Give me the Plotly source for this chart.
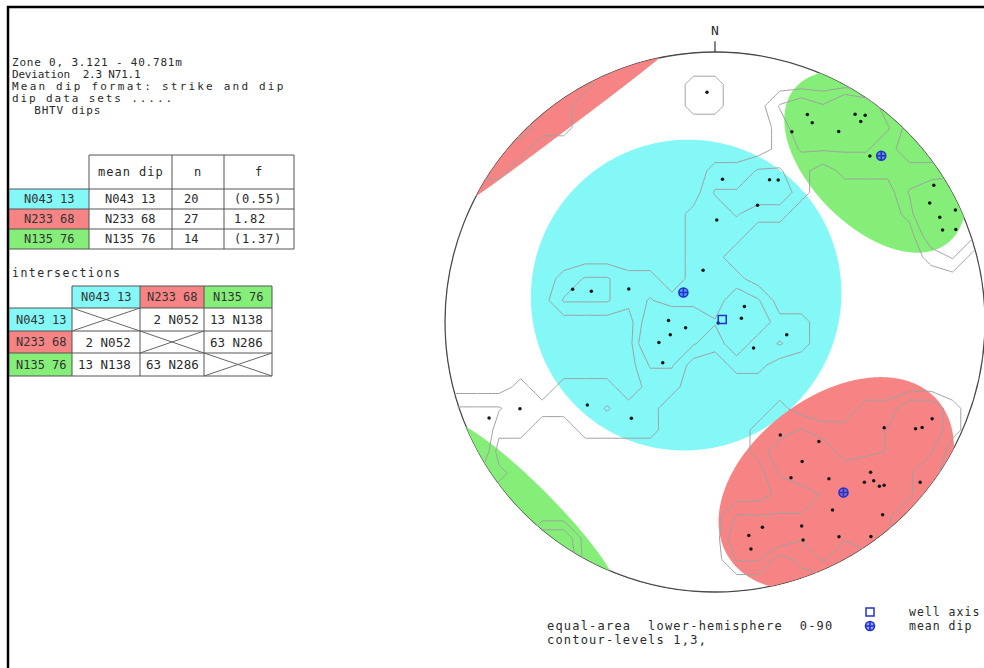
import numpy as np
import plotly.graph_objects as go

# ---------------- data ----------------
info_lines = ["Zone 0, 3.121 - 40.781m", "Deviation  2.3 N71.1",
              "Mean dip format: strike and dip", "dip data sets .....", "   BHTV dips"]
set_labels = ["N043 13", "N233 68", "N135 76"]
set_colors = ["#84F7F7", "#F78484", "#84EE78"]
mean_strike = [43, 233, 135]
mean_dip = [13, 68, 76]
set_n = [20, 27, 14]
set_f = ["(0.55)", "1.82", "(1.37)"]
table1_header = ["mean dip", "n", "f"]
isect_plunge = [[None, 2, 13], [2, None, 63], [13, 63, None]]
isect_trend = [[None, 52, 138], [52, None, 286], [138, 286, None]]
cone_half_angle = [48, 33, 26]
well_deviation = 2.3
well_azimuth = 71.1
contour_levels = [1, 3]
bottom_lines = ["equal-area  lower-hemisphere  0-90", "contour-levels 1,3,"]
legend_labels = ["well axis", "mean dip"]

# BHTV dips (dip direction, dip) per set
cyan_dipdir = [183, 201, 204, 200, 181, 167, 103, 104, 111, 242, 288, 262, 92, 79, 74, 70, 280, 304, 52, 57, 41]
cyan_dip = [44, 47, 48, 38, 31, 16, 45, 39, 28, 10, 1, 8, 14, 9, 14, 18, 22, 14, 20, 47, 39]
red_dipdir = [330, 319, 328, 334, 324, 314, 315, 317, 315, 314, 328, 319, 308, 302, 298, 297, 294,
              347, 337, 351, 351, 338, 330, 324]
red_dip = [40, 49, 51, 54, 61, 69, 72, 70, 75, 76, 71, 84, 86, 63, 73, 75, 77, 67, 71, 69, 74, 76, 81, 88]
green_dipdir = [204, 206, 202, 213, 214, 216, 216, 223, 238, 241, 245, 248, 249, 245]
green_dip = [73, 71, 65, 73, 82, 84, 81, 73, 85, 80, 81, 80, 85, 88]
other_dipdir = [178, 67, 66]
other_dip = [74, 80, 68]

# ---------------- style / geometry ----------------
W, H = 984, 668
CX, CY, R = 715.0, 322.0, 270.0
FONT = "DejaVu Sans Mono"
TXT = "#2a2a2a"
info_spacing = [0.8, -0.2, 2.2, 1.9, 0.8]
GRID_STEP, COUNT_RADIUS = 0.08, 0.11


def px(x, y):
    return x / W, 1 - y / H


def vec(az, theta):
    a, t = np.radians(az), np.radians(theta)
    return np.array([np.sin(t) * np.sin(a), np.sin(t) * np.cos(a), np.cos(t)])


def proj_pts(P):
    P = np.atleast_2d(P)
    rh = np.hypot(P[:, 0], P[:, 1])
    rh = np.where(rh < 1e-12, 1e-12, rh)
    rho = np.sqrt(np.clip(1 - P[:, 2], 0, None))
    rho = np.where(P[:, 2] < 0, 1.0, rho)
    return rho * P[:, 0] / rh, rho * P[:, 1] / rh


def pole_xy(dipdir, dip):
    dd = np.asarray(dipdir, float)
    d = np.asarray(dip, float)
    rho = np.sqrt(2) * np.sin(np.radians(d) / 2)
    tr = np.radians(dd + 180)
    return rho * np.sin(tr), rho * np.cos(tr)


def cone_pieces(az, theta, alpha, n=720):
    m = vec(az, theta)
    k = np.array([0, 0, 1.0]) if abs(m[2]) < 0.9 else np.array([1.0, 0, 0])
    u = np.cross(m, k)
    u /= np.linalg.norm(u)
    v = np.cross(m, u)
    t = np.linspace(0, 2 * np.pi, n, endpoint=False)
    a = np.radians(alpha)
    P = np.cos(a) * m[None, :] + np.sin(a) * (np.cos(t)[:, None] * u[None, :] + np.sin(t)[:, None] * v[None, :])
    pieces = [proj_pts(P)]
    Q = -P
    up = Q[:, 2] > 0
    if up.any() and not up.all():
        start = [i for i in range(n) if up[i] and not up[i - 1]][0]
        Q = np.roll(Q, -start, axis=0)
        up = np.roll(up, -start)
        run = Q[: np.argmin(up)]
        xs, ys = proj_pts(run)
        a_end = np.arctan2(xs[-1], ys[-1])
        a_st = np.arctan2(xs[0], ys[0])
        dlt = (a_st - a_end + np.pi) % (2 * np.pi) - np.pi
        arc = a_end + dlt * np.linspace(0, 1, 40)
        pieces.append((np.concatenate([xs, np.sin(arc)]), np.concatenate([ys, np.cos(arc)])))
    return pieces


def path_of(xs, ys):
    return "M" + " L".join("%.4f,%.4f" % (a, b) for a, b in zip(xs, ys)) + " Z"


fig = go.Figure()
shapes = []
ann = []

# primitive circle (bottom-most)
shapes.append(dict(type="circle", xref="x", yref="y", x0=-1, y0=-1, x1=1, y1=1,
                   line=dict(color="#4a4a4a", width=1.3), layer="below"))

# colored set regions (cones around the mean poles), below all traces
for i in range(3):
    paz = (mean_strike[i] + 270) % 360
    for xs, ys in cone_pieces(paz, mean_dip[i], cone_half_angle[i]):
        shapes.append(dict(type="path", xref="x", yref="y", path=path_of(xs, ys),
                           fillcolor=set_colors[i], line=dict(width=0), layer="below"))

# density contours (counting circle)
all_dd = cyan_dipdir + red_dipdir + green_dipdir + other_dipdir
all_d = cyan_dip + red_dip + green_dip + other_dip
pxs, pys = pole_xy(all_dd, all_d)
rho = np.hypot(pxs, pys)
edge = rho > 0.8
rr = np.sqrt(2 - rho[edge] ** 2)
ex = -pxs[edge] / rho[edge] * rr
ey = -pys[edge] / rho[edge] * rr
cx_all = np.concatenate([pxs, ex])
cy_all = np.concatenate([pys, ey])
g = np.round(np.arange(-1.2, 1.2001, GRID_STEP), 4)
GX, GY = np.meshgrid(g, g)
dist = np.hypot(GX[..., None] - cx_all[None, None, :], GY[..., None] - cy_all[None, None, :])
Z = (dist <= COUNT_RADIUS).sum(axis=2) * 100.0 / len(pxs)
Z[np.hypot(GX, GY) > 1.05] = 0
fig.add_trace(go.Contour(x=g, y=g, z=Z, showscale=False, hoverinfo="skip",
                         contours=dict(start=contour_levels[0], end=contour_levels[-1],
                                       size=contour_levels[1] - contour_levels[0], coloring="none"),
                         line=dict(color="#a0a0a0", width=1, smoothing=0)))

# poles
for dd, d in [(cyan_dipdir, cyan_dip), (red_dipdir, red_dip), (green_dipdir, green_dip),
              (other_dipdir, other_dip)]:
    x, y = pole_xy(dd, d)
    fig.add_trace(go.Scatter(x=x, y=y, mode="markers", marker=dict(size=3.5, color="#151515"),
                             hoverinfo="skip", showlegend=False))

# mean dips
mx, my = pole_xy([(s + 90) % 360 for s in mean_strike], mean_dip)
fig.add_trace(go.Scatter(x=mx, y=my, mode="markers",
                         marker=dict(symbol="circle-cross", size=9, color="rgba(60,80,230,0.55)",
                                     line=dict(width=1.6, color="#2233cc")),
                         hoverinfo="skip", showlegend=False))
# well axis
wr = np.sqrt(2) * np.sin(np.radians(well_deviation) / 2)
fig.add_trace(go.Scatter(x=[wr * np.sin(np.radians(well_azimuth))], y=[wr * np.cos(np.radians(well_azimuth))],
                         mode="markers",
                         marker=dict(symbol="square-open", size=8, color="#2233cc", line=dict(width=1.5)),
                         hoverinfo="skip", showlegend=False))


# legend symbols
def d_of(x, y):
    return (x - CX) / R, (CY - y) / R


lx0, ly0 = d_of(870, 612)
lx1, ly1 = d_of(870, 626)
fig.add_trace(go.Scatter(x=[lx0], y=[ly0], mode="markers",
                         marker=dict(symbol="square-open", size=8, color="#2233cc", line=dict(width=1.5)),
                         hoverinfo="skip", showlegend=False))
fig.add_trace(go.Scatter(x=[lx1], y=[ly1], mode="markers",
                         marker=dict(symbol="circle-cross", size=9, color="rgba(60,80,230,0.55)",
                                     line=dict(width=1.6, color="#2233cc")),
                         hoverinfo="skip", showlegend=False))

# white mask outside primitive to trim contour lines
th = np.linspace(0, 2 * np.pi, 241)
shapes.append(dict(type="path", xref="x", yref="y",
                   path=path_of(1.17 * np.sin(th), 1.17 * np.cos(th)) + " " +
                        path_of(1.004 * np.sin(th), 1.004 * np.cos(th)),
                   fillcolor="white", fillrule="evenodd", line=dict(width=0), layer="above"))
# north tick
shapes.append(dict(type="line", xref="x", yref="y", x0=0, y0=1.0, x1=0, y1=1.04,
                   line=dict(color="#333", width=1.2), layer="above"))
ann.append(dict(x=0, y=(CY - 30) / R, xref="x", yref="y", text="N", showarrow=False,
                font=dict(family=FONT, size=13, color=TXT), xanchor="center", yanchor="middle"))


def pline(x0, y0, x1, y1, color="#555", width=1):
    a0, b0 = px(x0, y0)
    a1, b1 = px(x1, y1)
    shapes.append(dict(type="line", xref="paper", yref="paper", x0=a0, y0=b0, x1=a1, y1=b1,
                       line=dict(color=color, width=width), layer="above"))


def prect(x0, y0, x1, y1, color):
    a0, b0 = px(x0, y0)
    a1, b1 = px(x1, y1)
    shapes.append(dict(type="rect", xref="paper", yref="paper", x0=a0, y0=b0, x1=a1, y1=b1,
                       fillcolor=color, line=dict(width=0), layer="below"))


def ptext(x, y, s, anchor="left", size=13, color=TXT, spacing=0.0):
    a, b = px(x, y)
    t = s.replace(" ", "\u00a0")
    if spacing:
        t = '<span style="letter-spacing:%.1fpx">%s</span>' % (spacing, t)
    ann.append(dict(x=a, y=b, xref="paper", yref="paper", text=t,
                    showarrow=False, xanchor=anchor, yanchor="middle",
                    font=dict(family=FONT, size=size, color=color)))


# page border lines
pline(7, 7, 984, 7, "black", 2.5)
pline(8, 6, 8, 668, "black", 2.5)

# info text
for i, s in enumerate(info_lines):
    ptext(10, 63 + 11.9 * i, s, size=11, spacing=info_spacing[i])

# table 1
c1 = [8, 89, 172, 224, 294]
r1 = [155, 189, 209, 229, 249]
for i in range(3):
    prect(9, r1[i + 1], c1[1], r1[i + 2], set_colors[i])
pline(c1[1], r1[0], c1[4], r1[0])
for y in r1[1:]:
    pline(9, y, c1[4], y)
for x in c1[1:]:
    pline(x, r1[0], x, r1[4])
hy = (r1[0] + r1[1]) / 2
for j, h in enumerate(table1_header):
    ptext((c1[j + 1] + c1[j + 2]) / 2, hy, h, "center", 12, spacing=1.0)
for i in range(3):
    yy = (r1[i + 1] + r1[i + 2]) / 2
    ptext((c1[0] + c1[1]) / 2 + 1, yy, set_labels[i], "center", 12, "#333")
    ptext((c1[1] + c1[2]) / 2, yy, "N%03d %d" % (mean_strike[i], mean_dip[i]), "center", 12)
    ptext(c1[2] + 10, yy, str(set_n[i]), size=12)
    ptext(c1[3] + 8, yy, set_f[i], size=12, spacing=0.8)

# intersections table
ptext(10, 273, "intersections", size=11.5, spacing=1.5)
c2 = [8, 72, 140, 204, 272]
r2 = [286, 308, 331, 353, 376]
for j in range(3):
    prect(c2[j + 1], r2[0], c2[j + 2], r2[1], set_colors[j])
    prect(9, r2[j + 1], c2[1], r2[j + 2], set_colors[j])
pline(c2[1], r2[0], c2[4], r2[0])
for y in r2[1:]:
    pline(9, y, c2[4], y)
for x in c2[1:]:
    pline(x, r2[0], x, r2[4])
for j in range(3):
    ptext((c2[j + 1] + c2[j + 2]) / 2, (r2[0] + r2[1]) / 2, set_labels[j], "center", 12, "#333")
    ptext((c2[0] + c2[1]) / 2 + 1, (r2[j + 1] + r2[j + 2]) / 2, set_labels[j], "center", 12, "#333")
for i in range(3):
    for j in range(3):
        x0, x1 = c2[j + 1], c2[j + 2]
        y0, y1 = r2[i + 1], r2[i + 2]
        if isect_plunge[i][j] is None:
            pline(x0, y0, x1, y1, "#666", 1)
            pline(x0, y1, x1, y0, "#666", 1)
        else:
            ptext(x0 + 4, (y0 + y1) / 2, "%2d N%03d" % (isect_plunge[i][j], isect_trend[i][j]), size=12.5)

# bottom texts
ptext(545, 626, bottom_lines[0], size=12, spacing=1.2)
ptext(545, 640, bottom_lines[1], size=12, spacing=1.2)
ptext(907, 612, legend_labels[0], size=11.5, spacing=1.0)
ptext(907, 626, legend_labels[1], size=11.5, spacing=1.0)

fig.update_layout(
    width=W, height=H, margin=dict(l=0, r=0, t=0, b=0),
    paper_bgcolor="white", plot_bgcolor="white", showlegend=False, hovermode=False,
    xaxis=dict(range=[-CX / R, (W - CX) / R], visible=False, fixedrange=True),
    yaxis=dict(range=[-(H - CY) / R, CY / R], visible=False, fixedrange=True),
    shapes=shapes, annotations=ann,
)
fig.write_html("out.html", config={"displayModeBar": False},
               post_script="document.body.style.margin='0px';document.body.style.padding='0px';")
